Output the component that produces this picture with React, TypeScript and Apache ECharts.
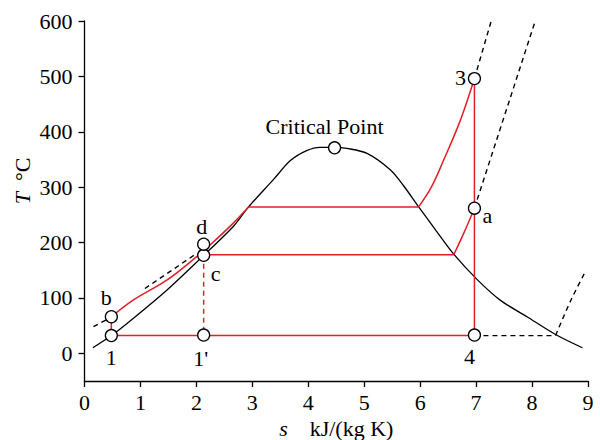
import React, { useEffect, useRef } from "react";
import * as echarts from "echarts";

// ---- data (s in kJ/(kg K), T in °C) ----
const xTicks = [0, 1, 2, 3, 4, 5, 6, 7, 8, 9];
const yTicks = [0, 100, 200, 300, 400, 500, 600];

const domeS = [0.15, 0.48, 0.87, 1.47, 2.07, 2.66, 2.93, 3.38, 3.68, 3.97, 4.21, 4.47, 4.69, 5.05, 5.47, 5.7, 5.97, 6.28, 6.6, 7.02, 7.43, 7.91, 8.42, 8.9];
const domeT = [10, 32, 63, 114, 171, 229, 264, 314, 348, 366, 372, 372, 370, 361, 331, 303, 265, 222, 179, 133, 96, 66, 34, 10];

const liquid5S = [0.48, 0.87, 1.47, 2.0, 2.25, 2.66, 2.93];
const liquid5T = [66, 96, 132, 174, 196, 235, 264];

const super5S = [5.97, 6.2, 6.42, 6.72, 6.97];
const super5T = [264, 300, 349, 421, 496];

const super1S = [6.6, 6.78, 6.97];
const super1T = [178, 217, 262];

const pumpS = [0.48, 0.48];
const pumpT = [32, 66];
const boil5S = [2.93, 5.97];
const boil5T = [264, 264];
const turbineS = [6.97, 6.97];
const turbineT = [496, 32];
const condenseS = [6.97, 0.48];
const condenseT = [32, 32];
const boil1S = [2.13, 6.6];
const boil1T = [178, 178];
const isentropicS = [2.13, 2.13];
const isentropicT = [178, 33];

const dashA_S = [0.16, 0.42];
const dashA_T = [48, 62];
const dashB_S = [1.08, 2.0];
const dashB_T = [117, 180];
const dash3S = [6.97, 7.27];
const dash3T = [496, 600];
const dashAS = [6.97, 8.05];
const dashAT = [262, 598];
const dash4S = [6.97, 8.42];
const dash4T = [32, 32];
const dash4bS = [8.42, 8.69, 8.94];
const dash4bT = [32, 95, 145];

const pointNames = ["1", "b", "c", "d", "1'", "4", "a", "3", "Critical Point"];
const pointS = [0.48, 0.48, 2.13, 2.13, 2.13, 6.97, 6.97, 6.97, 4.47];
const pointT = [32, 66, 177, 197, 33, 33, 262, 496, 371];

const noteTexts = ["{i|p} = 5 MPa", "1 MPa", "0.005 MPa"];
const noteS = [4.32, 4.73, 5.07];
const noteT = [292, 200, 60];

// ---- styles ----
const labelOffsets = [
  [0, 22], [-5, -19], [12, 18], [-2, -18], [-3, 23], [-5, 21], [13, 7], [-14, -1], [-10, -21],
];
const FONT = "Liberation Serif";
const FS = 22;
const RED = "#e41e26";

const pairs = (xs: number[], ys: number[]) => xs.map((x, i) => [x, ys[i]]);

export default function App() {
  const ref = useRef<HTMLDivElement>(null);
  useEffect(() => {
    document.body.style.margin = "0";
    const chart = echarts.init(ref.current!, null, { renderer: "svg" });
    const line = (xs: number[], ys: number[], color: string, dashed = false, smooth: any = false, width = 1.4, z = 2) => ({
      type: "line",
      data: pairs(xs, ys),
      symbol: "none",
      smooth,
      z,
      lineStyle: { color, width, type: dashed ? [5, 4] : "solid" },
      silent: true,
    });
    const italic = { fontFamily: FONT, fontSize: FS, fontStyle: "italic", color: "#000" };
    const option: any = {
      animation: false,
      grid: { left: 84.5, right: 12, top: 21, bottom: 59, containLabel: false, outerBoundsMode: "none" },
      xAxis: {
        type: "value",
        min: 0,
        max: 9,
        interval: 1,
        splitLine: { show: false },
        axisLine: { onZero: false, lineStyle: { color: "#000", width: 1.3 } },
        axisTick: { show: true, length: 6, lineStyle: { color: "#000", width: 1.3 } },
        axisLabel: { margin: 10, fontFamily: FONT, fontSize: FS, color: "#000", customValues: xTicks },
        name: "{i|s}    kJ/(kg K)",
        nameLocation: "middle",
        nameGap: 35,
        nameTextStyle: { fontFamily: FONT, fontSize: FS, color: "#000", rich: { i: italic } },
      },
      yAxis: {
        type: "value",
        min: -50,
        max: 600,
        splitLine: { show: false },
        axisLine: { show: true, onZero: false, lineStyle: { color: "#000", width: 1.3 } },
        axisTick: { show: true, length: 6, customValues: yTicks, lineStyle: { color: "#000", width: 1.3 } },
        axisLabel: { margin: 12, fontFamily: FONT, fontSize: FS, color: "#000", customValues: yTicks },
      },
      graphic: [
        {
          type: "text",
          x: 22,
          y: 181,
          rotation: Math.PI / 2,
          style: {
            text: "{i|T}  °C",
            fontFamily: FONT,
            fontSize: FS,
            fill: "#000",
            align: "center",
            verticalAlign: "middle",
            rich: { i: { fontFamily: FONT, fontSize: FS, fontStyle: "italic", fill: "#000" } },
          },
        },
      ],
      series: [
        line(domeS, domeT, "#000", false, 0.3, 1.3, 2),
        line(dashA_S, dashA_T, "#000", true),
        line(dashB_S, dashB_T, "#000", true),
        line(dash3S, dash3T, "#000", true),
        line(dashAS, dashAT, "#000", true),
        line(dash4S, dash4T, "#000", true),
        line(dash4bS, dash4bT, "#000", true, 0.3),
        line(pumpS, pumpT, RED, false, false, 1.5, 3),
        line(liquid5S, liquid5T, RED, false, 0.35, 1.5, 3),
        line(boil5S, boil5T, RED, false, false, 1.5, 3),
        line(super5S, super5T, RED, false, 0.35, 1.5, 3),
        line(turbineS, turbineT, RED, false, false, 1.5, 3),
        line(condenseS, condenseT, RED, false, false, 1.5, 3),
        line(boil1S, boil1T, RED, false, false, 1.5, 3),
        line(super1S, super1T, RED, false, 0.35, 1.5, 3),
        line(isentropicS, isentropicT, RED, true, false, 1.5, 3),
        {
          type: "scatter",
          z: 5,
          symbol: "circle",
          symbolSize: 12,
          itemStyle: { color: "#fff", borderColor: "#000", borderWidth: 1.3, opacity: 1 },
          label: {
            show: true,
            position: "inside",
            formatter: "{b}",
            fontFamily: FONT,
            fontSize: FS,
            color: "#000",
            align: "center",
            verticalAlign: "middle",
          },
          data: pointNames.map((n, i) => ({
            name: n,
            value: [pointS[i], pointT[i]],
            label: { offset: labelOffsets[i] },
          })),
          silent: true,
        },
        {
          type: "scatter",
          z: 6,
          symbolSize: 0,
          itemStyle: { opacity: 0 },
          label: {
            show: true,
            position: "inside",
            formatter: "{b}",
            fontFamily: FONT,
            fontSize: FS,
            color: "#000",
            align: "center",
            verticalAlign: "middle",
            rich: { i: italic },
          },
          data: noteTexts.map((n, i) => ({ name: n, value: [noteS[i], noteT[i]] })),
          silent: true,
        },
      ],
    };
    chart.setOption(option);
    return () => chart.dispose();
  }, []);
  return <div ref={ref} style={{ width: 600, height: 440 }} />;
}
